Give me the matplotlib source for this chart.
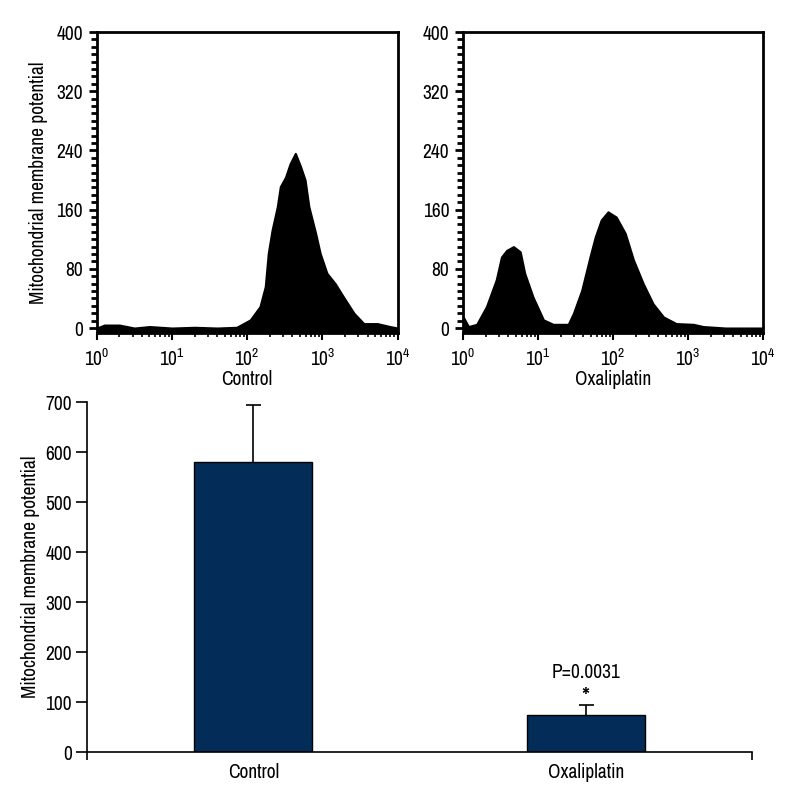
import matplotlib
matplotlib.use('Agg')
import matplotlib.pyplot as plt
import numpy as np
from matplotlib import font_manager
from matplotlib.ticker import MultipleLocator, FixedLocator, LogLocator, NullFormatter

# look for a narrow face; the original uses a condensed sans
narrow = sorted({f.name for f in font_manager.fontManager.ttflist
                 if 'Narrow' in f.name or 'Condensed' in f.name
                 or str(f.stretch) in ('condensed', 'semi-condensed', 'extra-condensed')})
fam = (narrow[:1] if narrow else []) + ['Roboto', 'DejaVu Sans']
plt.rcParams['font.family'] = fam
plt.rcParams['mathtext.fontset'] = 'custom'
plt.rcParams['mathtext.rm'] = fam[0]
fsize = 14 if narrow else 12
plt.rcParams['font.size'] = fsize

# flow cytometry histograms (log10 fluorescence, counts)
control_log = [0.0, 0.1, 0.3, 0.5, 0.7, 1.0, 1.3, 1.6, 1.86, 2.04, 2.17, 2.24, 2.28, 2.33,
               2.40, 2.44, 2.51, 2.57, 2.64, 2.71, 2.77, 2.82, 2.91, 2.97, 3.06, 3.17,
               3.28, 3.42, 3.55, 3.73, 3.9, 4.0]
control_cnt = [0, 4, 4, 0, 2, 0, 1, 0, 1, 11, 29, 56, 101, 132,
               164, 191, 204, 222, 236, 218, 200, 164, 128, 101, 74, 60,
               42, 20, 6, 6, 2, 0]

oxali_log = [0.0, 0.07, 0.18, 0.31, 0.44, 0.51, 0.58, 0.67, 0.76, 0.82, 0.93, 1.07,
             1.2, 1.4, 1.47, 1.58, 1.69, 1.76, 1.84, 1.93, 2.04, 2.16, 2.27, 2.4,
             2.53, 2.67, 2.84, 3.07, 3.2, 3.5, 4.0]
oxali_cnt = [15, 2, 5, 29, 65, 96, 105, 110, 103, 74, 42, 11,
             5, 5, 20, 51, 96, 123, 146, 157, 150, 128, 92, 60,
             33, 15, 6, 5, 2, 0, 0]

# summary bars
groups = ['Control', 'Oxaliplatin']
means = [580, 74]
errs = [114, 21]
p_text = 'P=0.0031'

fig = plt.figure(figsize=(8, 8), dpi=100)

ylab = 'Mitochondrial membrane potential'


def hist_panel(ax, logs, cnts, xlabel, show_ylabel):
    x = 10 ** np.array(logs)
    ax.fill_between(x, cnts, -7, color='black', linewidth=1.5)
    ax.set_xscale('log')
    ax.set_xlim(1, 1e4)
    ax.set_ylim(-7, 400)
    ax.yaxis.set_major_locator(FixedLocator([0, 80, 160, 240, 320, 400]))
    ax.yaxis.set_minor_locator(MultipleLocator(10))
    ax.xaxis.set_major_locator(LogLocator(base=10, numticks=10))
    ax.xaxis.set_minor_locator(LogLocator(base=10, subs=np.arange(2, 10), numticks=10))
    ax.xaxis.set_minor_formatter(NullFormatter())
    for s in ax.spines.values():
        s.set_linewidth(2)
    ax.tick_params(axis='y', which='major', length=6, width=2, pad=4)
    ax.tick_params(axis='y', which='minor', length=4, width=2)
    ax.tick_params(axis='x', which='major', length=5, width=1.5, pad=6)
    ax.tick_params(axis='x', which='minor', length=3, width=1.2)
    ax.set_xlabel(xlabel, labelpad=0)
    if show_ylabel:
        ax.set_ylabel(ylab, labelpad=6)


ax1 = fig.add_axes([0.121, 0.5835, 0.376, 0.3765])
hist_panel(ax1, control_log, control_cnt, 'Control', True)
ax2 = fig.add_axes([0.579, 0.5835, 0.375, 0.3765])
hist_panel(ax2, oxali_log, oxali_cnt, 'Oxaliplatin', False)

ax3 = fig.add_axes([0.109, 0.06, 0.831, 0.4375])
pos = np.arange(len(groups))
ax3.bar(pos, means, width=0.355, color='#042c58', edgecolor='black', linewidth=1)
eb = ax3.errorbar(pos, means, yerr=[np.zeros(len(errs)), errs], fmt='none',
                  ecolor='black', elinewidth=1.2, capsize=5.4, capthick=1.2)
eb[1][0].set_visible(False)  # no cap at the bar top
ax3.set_xlim(-0.5, 1.5)
ax3.set_ylim(0, 700)
ax3.yaxis.set_major_locator(MultipleLocator(100))
ax3.set_xticks(pos)
ax3.set_xticklabels(groups)
ax3.xaxis.set_minor_locator(FixedLocator([-0.5, 1.5]))
ax3.tick_params(axis='x', which='major', length=0, pad=8)
ax3.tick_params(axis='x', which='minor', length=6, width=1.2)
ax3.tick_params(axis='y', length=8, width=1.2, pad=3)
ax3.spines['top'].set_visible(False)
ax3.spines['right'].set_visible(False)
ax3.spines['left'].set_linewidth(1.2)
ax3.spines['bottom'].set_linewidth(1.2)
ax3.set_ylabel(ylab, labelpad=4)
ax3.text(1, 158, p_text, ha='center', va='center')
ax3.text(1, 132, '*', ha='center', va='top', fontsize=18)

fig.savefig('out.png', dpi=100)
